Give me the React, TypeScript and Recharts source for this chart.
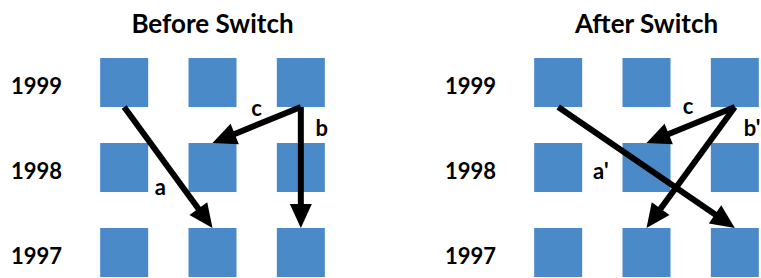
import { ReferenceLine, Scatter, ScatterChart, XAxis, YAxis } from "recharts";

const columns = [1, 2, 3];
const years = [1997, 1998, 1999];
const cells = years.flatMap((year) => columns.map((col) => ({ col, year })));

interface Arrow {
    name: string;
    fromCol: number;
    fromYear: number;
    toCol: number;
    toYear: number;
}

const beforeArrows: Arrow[] = [
    { name: "a", fromCol: 1, fromYear: 1999, toCol: 2, toYear: 1997 },
    { name: "c", fromCol: 3, fromYear: 1999, toCol: 2, toYear: 1998 },
    { name: "b", fromCol: 3, fromYear: 1999, toCol: 3, toYear: 1997 },
];

const afterArrows: Arrow[] = [
    { name: "a'", fromCol: 1, fromYear: 1999, toCol: 3, toYear: 1997 },
    { name: "c", fromCol: 3, fromYear: 1999, toCol: 2, toYear: 1998 },
    { name: "b'", fromCol: 3, fromYear: 1999, toCol: 2, toYear: 1997 },
];

// where each arrow's letter sits: fraction along the arrow + pixel offset
const labelPos: Record<string, { t: number; dx: number; dy: number }> = {
    "before-a": { t: 0.68, dx: -24, dy: 0 },
    "before-c": { t: 0.5, dx: 0, dy: -15 },
    "before-b": { t: 0.19, dx: 21, dy: 0 },
    "after-a'": { t: 0.4, dx: -28, dy: 18 },
    "after-c": { t: 0.53, dx: 0, dy: -18 },
    "after-b'": { t: 0.19, dx: 34, dy: 0 },
};

const BLUE = "#4A8AC9";
const FONT = "Lato, 'Open Sans', sans-serif";
const HALF = 24.5;
const HEAD_LEN = 24;
const HEAD_W = 22;

const Square = (props: any) => (
    <rect x={props.cx - 24} y={props.cy - HALF} width={48} height={49} fill={BLUE} />
);

const YearTick = (props: any) => (
    <text
        x={props.x}
        y={props.y + 6}
        textAnchor="end"
        dominantBaseline="middle"
        fontFamily={FONT}
        fontWeight={700}
        fontSize={22}
        fill="#000">
        {props.payload.value}
    </text>
);

function arrowShape(label: string, pos: { t: number; dx: number; dy: number }) {
    return (p: any) => {
        const x1 = p.x1;
        const y1 = p.y1 + HALF;
        const x2 = p.x2;
        const y2 = p.y2 - HALF;
        const dx = x2 - x1;
        const dy = y2 - y1;
        const len = Math.hypot(dx, dy);
        const ux = dx / len;
        const uy = dy / len;
        const bx = x2 - ux * HEAD_LEN;
        const by = y2 - uy * HEAD_LEN;
        const px = -uy * (HEAD_W / 2);
        const py = ux * (HEAD_W / 2);
        const lx = x1 + dx * pos.t + pos.dx;
        const ly = y1 + dy * pos.t + pos.dy;
        return (
            <g>
                <line
                    x1={x1}
                    y1={y1}
                    x2={bx + ux * 2}
                    y2={by + uy * 2}
                    stroke="#000"
                    strokeWidth={6}
                />
                <polygon
                    points={`${x2},${y2} ${bx + px},${by + py} ${bx - px},${by - py}`}
                    fill="#000"
                />
                <text
                    x={lx}
                    y={ly}
                    textAnchor="middle"
                    dominantBaseline="middle"
                    fontFamily={FONT}
                    fontWeight={700}
                    fontSize={22}
                    fill="#000">
                    {label}
                </text>
            </g>
        );
    };
}

function Panel({ title, arrows, id, left }: { title: string; arrows: Arrow[]; id: string; left: number }) {
    return (
        <div style={{ position: "absolute", left, top: 0, width: 434, height: 300 }}>
            <div
                style={{
                    position: "absolute",
                    left: 60,
                    width: 305,
                    top: 10,
                    textAlign: "center",
                    fontFamily: FONT,
                    fontWeight: 700,
                    fontSize: 26,
                    lineHeight: "26px",
                    color: "#000",
                }}>
                {title}
            </div>
            <ScatterChart
                width={434}
                height={300}
                margin={{ top: 40, right: 89, bottom: 5, left: 0 }}>
                <XAxis type="number" dataKey="col" domain={[0.5, 3.5]} hide />
                <YAxis
                    type="number"
                    dataKey="year"
                    domain={[1996.5, 1999.5]}
                    ticks={years}
                    interval={0}
                    width={80}
                    axisLine={false}
                    tickLine={false}
                    tickSize={6}
                    tickMargin={12}
                    tick={YearTick}
                />
                <Scatter data={cells} shape={Square} isAnimationActive={false} zIndex={100} />
                {arrows.map((a) => (
                    <ReferenceLine
                        key={a.name}
                        zIndex={1000}
                        segment={[
                            { x: a.fromCol, y: a.fromYear },
                            { x: a.toCol, y: a.toYear },
                        ]}
                        shape={arrowShape(a.name, labelPos[`${id}-${a.name}`])}
                    />
                ))}
            </ScatterChart>
        </div>
    );
}

export default function App() {
    return (
        <div
            style={{
                position: "absolute",
                left: 0,
                top: 0,
                width: 761,
                height: 278,
                overflow: "hidden",
                background: "#fff",
            }}>
            <Panel title="Before Switch" arrows={beforeArrows} id="before" left={0} />
            <Panel title="After Switch" arrows={afterArrows} id="after" left={434} />
        </div>
    );
}
